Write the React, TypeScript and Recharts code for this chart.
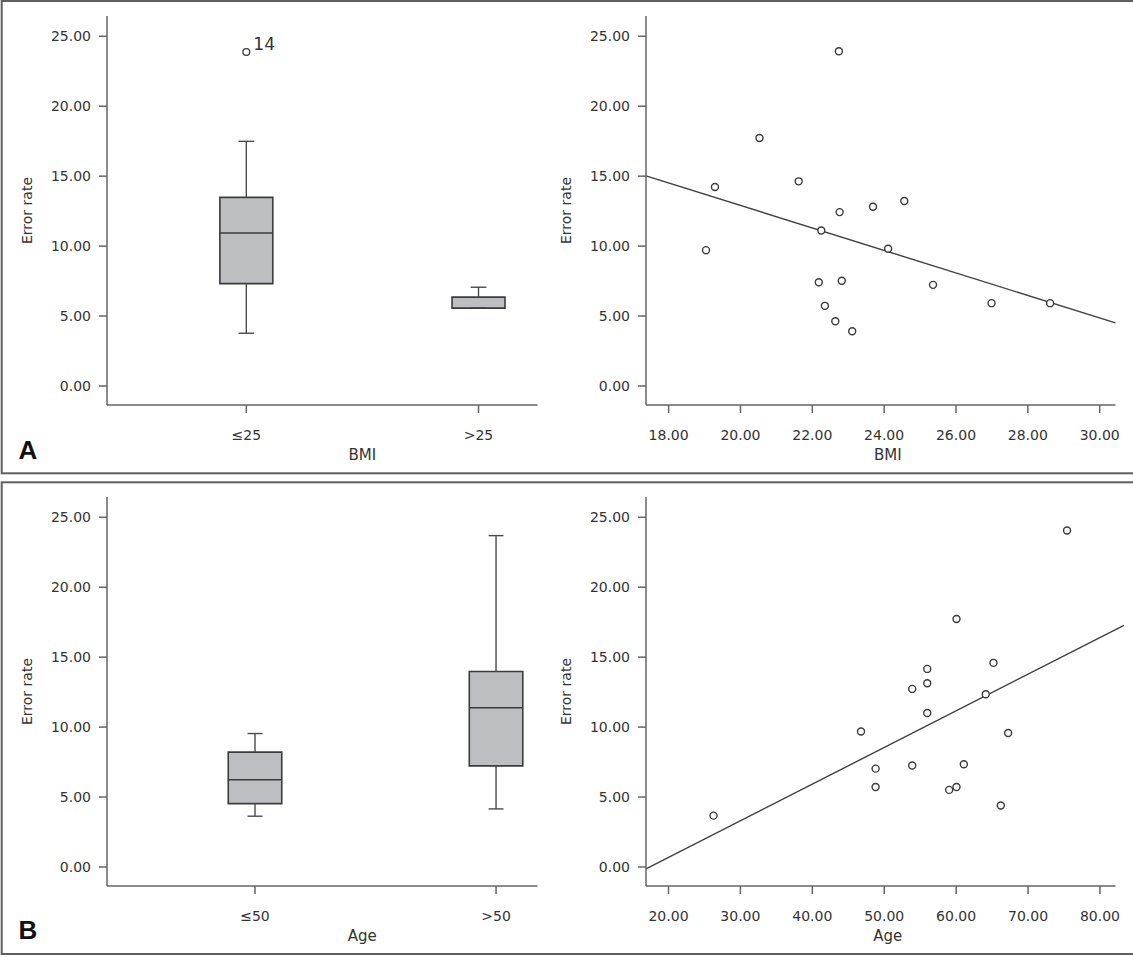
import React from 'react';
import { ComposedChart, Scatter, XAxis, YAxis, ReferenceArea, ReferenceLine } from 'recharts';

// ---------- data ----------
const errorTicks = [0, 5, 10, 15, 20, 25];
const bmiTicks = [18, 20, 22, 24, 26, 28, 30];
const ageTicks = [20, 30, 40, 50, 60, 70, 80];

// Box plot A (BMI groups)
const bmiGroups = ['≤25', '>25'];
const bmiWhiskerLow = [3.77, 5.56];
const bmiQ1 = [7.32, 5.56];
const bmiMedian = [10.93, 5.56];
const bmiQ3 = [13.48, 6.35];
const bmiWhiskerHigh = [17.49, 7.06];
const bmiOutlierGroup = [1];
const bmiOutlierValue = [23.88];
const bmiOutlierLabel = ['14'];

// Box plot B (Age groups)
const ageGroups = ['≤50', '>50'];
const ageWhiskerLow = [3.63, 4.15];
const ageQ1 = [4.53, 7.23];
const ageMedian = [6.23, 11.38];
const ageQ3 = [8.21, 13.98];
const ageWhiskerHigh = [9.54, 23.69];

// Scatter A (BMI vs error rate)
const bmiValues = [19.04, 19.29, 20.53, 21.62, 22.25, 22.18, 22.35, 22.64, 22.74, 22.76, 22.82, 23.11, 23.69, 24.11, 24.56, 25.36, 26.99, 28.62];
const bmiErrors = [9.71, 14.22, 17.73, 14.63, 11.12, 7.42, 5.73, 4.63, 23.93, 12.43, 7.52, 3.91, 12.81, 9.81, 13.22, 7.23, 5.92, 5.92];
const bmiFitX = [17.37, 30.44];
const bmiFitY = [15.02, 4.51];

// Scatter B (Age vs error rate)
const ageValues = [26.26, 46.77, 48.8, 48.8, 53.89, 53.89, 55.98, 55.98, 55.98, 60.05, 60.05, 59.03, 61.07, 64.12, 65.19, 66.21, 67.23, 75.42];
const ageErrors = [3.67, 9.68, 7.03, 5.72, 12.73, 7.25, 14.16, 13.13, 11.01, 17.73, 5.72, 5.51, 7.34, 12.35, 14.59, 4.39, 9.58, 24.05];
const ageFitX = [16.87, 83.33];
const ageFitY = [-0.14, 17.28];

// ---------- styles ----------
const FONT = '"DejaVu Sans", "Noto Sans", sans-serif';
const TEXT = '#333333';
const AXIS = '#666666';
const BOX_FILL = '#bdbec2';
const BOX_STROKE = '#3c3c3c';
const WHISKER = '#4a4a4a';
const POINT_STROKE = '#3a3a3a';
const Y_DOMAIN: [number, number] = [-1.36, 26.45];

const tickStyle = { fontSize: 14, fill: TEXT, fontFamily: FONT };
const lineStyle = { stroke: AXIS, strokeWidth: 1.5 };

const xTitle = (text: string, dx: number, dy: number) => (props: any) => {
  const vb = props.viewBox || { x: 0, y: 0, width: 0, height: 0 };
  return (
    <text x={vb.x + vb.width / 2 + dx} y={vb.y + dy} textAnchor="middle" fontSize={15} fill={TEXT} fontFamily={FONT}>
      {text}
    </text>
  );
};

const yTitle = (text: string, dx: number) => (props: any) => {
  const vb = props.viewBox || { x: 0, y: 0, width: 0, height: 0 };
  const x = vb.x + dx;
  const y = vb.y + vb.height / 2;
  return (
    <text x={x} y={y} textAnchor="middle" dominantBaseline="central" transform={`rotate(-90, ${x}, ${y})`} fontSize={14} fill={TEXT} fontFamily={FONT}>
      {text}
    </text>
  );
};

type BoxProps = {
  groups: string[];
  low: number[];
  q1: number[];
  med: number[];
  q3: number[];
  high: number[];
  xDomain: [number, number];
  boxHalf: number;
  capHalf: number;
  title: string;
  outliers?: { x: number; y: number; label: string }[];
};

function BoxPanel({ groups, low, q1, med, q3, high, xDomain, boxHalf, capHalf, title, outliers }: BoxProps) {
  const positions = groups.map((_, i) => i + 1);
  const elems: React.ReactNode[] = [];
  positions.forEach((p, i) => {
    elems.push(
      <ReferenceLine key={`wl${i}`} segment={[{ x: p, y: low[i] }, { x: p, y: q1[i] }]} stroke={WHISKER} strokeWidth={1.4} zIndex={300} />,
      <ReferenceLine key={`wh${i}`} segment={[{ x: p, y: q3[i] }, { x: p, y: high[i] }]} stroke={WHISKER} strokeWidth={1.4} zIndex={300} />,
      <ReferenceLine key={`cl${i}`} segment={[{ x: p - capHalf, y: low[i] }, { x: p + capHalf, y: low[i] }]} stroke={WHISKER} strokeWidth={1.4} zIndex={300} />,
      <ReferenceLine key={`ch${i}`} segment={[{ x: p - capHalf, y: high[i] }, { x: p + capHalf, y: high[i] }]} stroke={WHISKER} strokeWidth={1.4} zIndex={300} />,
      <ReferenceArea key={`b${i}`} x1={p - boxHalf} x2={p + boxHalf} y1={q1[i]} y2={q3[i]} fill={BOX_FILL} fillOpacity={1} stroke={BOX_STROKE} strokeWidth={1.6} zIndex={200} />,
      <ReferenceLine key={`m${i}`} segment={[{ x: p - boxHalf, y: med[i] }, { x: p + boxHalf, y: med[i] }]} stroke={BOX_STROKE} strokeWidth={1.5} zIndex={300} />
    );
  });
  return (
    <ComposedChart width={540} height={473} margin={{ top: 16, right: 2.5, bottom: 8, left: 0 }}>
      <XAxis
        type="number"
        dataKey="x"
        domain={xDomain}
        allowDataOverflow
        ticks={positions}
        interval={0}
        tickFormatter={(v: number) => groups[v - 1] ?? ''}
        height={60}
        tick={tickStyle}
        tickSize={8}
        tickMargin={17}
        axisLine={lineStyle}
        tickLine={lineStyle}
        label={xTitle(title, 40, 55)}
      />
      <YAxis
        type="number"
        dataKey="y"
        domain={Y_DOMAIN}
        allowDataOverflow
        ticks={errorTicks}
        interval={0}
        tickFormatter={(v: number) => v.toFixed(2)}
        width={107}
        tick={tickStyle}
        tickSize={8}
        tickMargin={8}
        axisLine={lineStyle}
        tickLine={lineStyle}
        label={yTitle('Error rate', 27)}
      />
      {elems}
      {outliers && (
        <Scatter
          data={outliers}
          isAnimationActive={false}
          zIndex={600}
          shape={(p: any) => (
            <g>
              <circle cx={p.cx} cy={p.cy} r={3.4} fill="#fff" stroke={POINT_STROKE} strokeWidth={1.3} />
              <text x={p.cx + 7} y={p.cy - 2} fontSize={17} fill={TEXT} fontFamily={FONT}>
                {p.payload.label}
              </text>
            </g>
          )}
        />
      )}
    </ComposedChart>
  );
}

type ScatterProps = {
  xs: number[];
  ys: number[];
  fitX: number[];
  fitY: number[];
  xDomain: [number, number];
  xTicks: number[];
  title: string;
};

function ScatterPanel({ xs, ys, fitX, fitY, xDomain, xTicks, title }: ScatterProps) {
  const points = xs.map((x, i) => ({ x, y: ys[i] }));
  return (
    <ComposedChart width={593} height={473} margin={{ top: 16, right: 17.5, bottom: 8, left: 0 }}>
      <XAxis
        type="number"
        dataKey="x"
        domain={xDomain}
        allowDataOverflow
        ticks={xTicks}
        interval={0}
        tickFormatter={(v: number) => v.toFixed(2)}
        height={60}
        tick={tickStyle}
        tickSize={8}
        tickMargin={17}
        axisLine={lineStyle}
        tickLine={lineStyle}
        label={xTitle(title, 7, 55)}
      />
      <YAxis
        type="number"
        dataKey="y"
        domain={Y_DOMAIN}
        allowDataOverflow
        ticks={errorTicks}
        interval={0}
        tickFormatter={(v: number) => v.toFixed(2)}
        width={106}
        tick={tickStyle}
        tickSize={8}
        tickMargin={8}
        axisLine={lineStyle}
        tickLine={lineStyle}
        label={yTitle('Error rate', 25.5)}
      />
      <ReferenceLine
        segment={[{ x: fitX[0], y: fitY[0] }, { x: fitX[1], y: fitY[1] }]}
        ifOverflow="visible"
        stroke="#3f3f3f"
        strokeWidth={1.4}
      />
      <Scatter
        data={points}
        isAnimationActive={false}
        shape={(p: any) => <circle cx={p.cx} cy={p.cy} r={3.5} fill="#fff" stroke={POINT_STROKE} strokeWidth={1.4} />}
      />
    </ComposedChart>
  );
}

export default function App() {
  const outliers = bmiOutlierGroup.map((g, i) => ({ x: g, y: bmiOutlierValue[i], label: bmiOutlierLabel[i] }));
  return (
    <div style={{ position: 'absolute', left: 0, top: 0, width: 1133, height: 957, background: '#fff', overflow: 'hidden' }}>
      <svg width={1133} height={957} style={{ position: 'absolute', left: 0, top: 0 }}>
        <rect x={1.7} y={1} width={1200} height={472.3} fill="none" stroke="#5f5f5f" strokeWidth={2} />
        <rect x={1.7} y={482.3} width={1200} height={471.7} fill="none" stroke="#5f5f5f" strokeWidth={2} />
        <text x={18.6} y={459} fontSize={26} fontWeight="bold" fontFamily='"Liberation Sans", Arial, sans-serif' fill="#111">A</text>
        <text x={18.6} y={939.3} fontSize={26} fontWeight="bold" fontFamily='"Liberation Sans", Arial, sans-serif' fill="#111">B</text>
      </svg>
      <div style={{ position: 'absolute', left: 0, top: 0 }}>
        <BoxPanel
          groups={bmiGroups}
          low={bmiWhiskerLow}
          q1={bmiQ1}
          med={bmiMedian}
          q3={bmiQ3}
          high={bmiWhiskerHigh}
          xDomain={[0.4, 2.254]}
          boxHalf={0.114}
          capHalf={0.034}
          title="BMI"
          outliers={outliers}
        />
      </div>
      <div style={{ position: 'absolute', left: 540, top: 0 }}>
        <ScatterPanel xs={bmiValues} ys={bmiErrors} fitX={bmiFitX} fitY={bmiFitY} xDomain={[17.37, 30.44]} xTicks={bmiTicks} title="BMI" />
      </div>
      <div style={{ position: 'absolute', left: 0, top: 481 }}>
        <BoxPanel
          groups={ageGroups}
          low={ageWhiskerLow}
          q1={ageQ1}
          med={ageMedian}
          q3={ageQ3}
          high={ageWhiskerHigh}
          xDomain={[0.386, 2.172]}
          boxHalf={0.111}
          capHalf={0.031}
          title="Age"
        />
      </div>
      <div style={{ position: 'absolute', left: 540, top: 481 }}>
        <ScatterPanel xs={ageValues} ys={ageErrors} fitX={ageFitX} fitY={ageFitY} xDomain={[16.87, 82.16]} xTicks={ageTicks} title="Age" />
      </div>
    </div>
  );
}
